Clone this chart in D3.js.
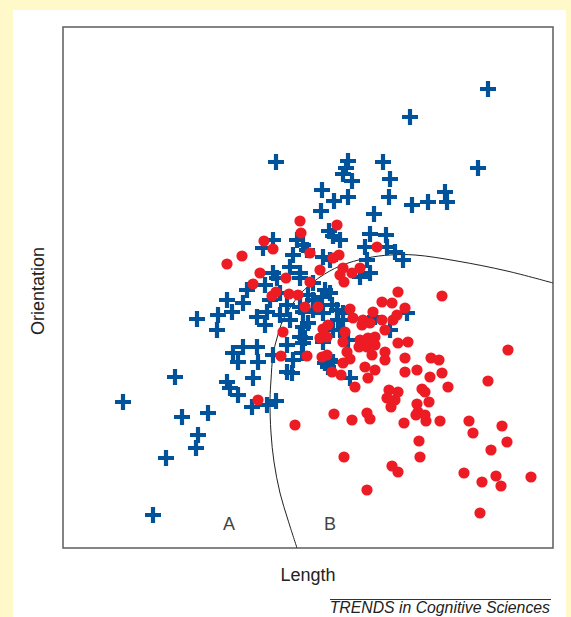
<!DOCTYPE html>
<html>
<head>
<meta charset="utf-8">
<script src="https://cdn.jsdelivr.net/npm/d3@7"></script>
<style>
  body { margin: 0; background: #fff9c9; }
  text { font-family: "Liberation Sans", Arial, sans-serif; }
</style>
</head>
<body>
<script>
// category A (blue crosses): [length, orientation]
var groupA = [
  [425,459],[347,431],[213,386],[415,380],
  [285,387],[283,380],[280,374],[289,367],[320,386],[327,369],[259,358],[271,347],
  [285,351],[326,351],[349,343],[365,346],[382,356],[384,346],[258,337],[311,334],
  [266,317],[270,312],[277,308],[307,314],[323,313],[302,301],[324,301],[332,296],
  [340,288],[304,288],[307,275],[297,271],
  [234,308],[240,303],[244,298],[230,293],[260,291],[267,288],[227,281],[237,275],
  [210,308],[200,300],[214,270],[202,263],[237,270],[250,265],[262,258],[267,255],
  [259,251],[245,253],[250,248],[269,243],[237,241],[250,238],[274,238],[280,235],
  [245,225],[275,228],[270,218],[242,210],[327,218],[285,208],[312,231],[210,275],
  [217,255],
  [164,248],[184,258],[180,245],[207,248],[224,243],[204,236],[194,231],[217,233],
  [169,236],[155,233],[134,229],[154,218],[202,223],[227,228],[240,236],[237,211],
  [224,203],[180,201],[194,201],[240,221],
  [170,195],[175,186],[195,186],[210,193],[224,176],[230,188],[112,171],[164,166],
  [167,160],[175,153],[190,170],[60,146],[119,131],[145,135],[135,113],[133,100],
  [103,90],[90,33],[189,141],[204,143],[213,147],[229,175],[240,205],
  [260,235],[280,228],[277,218],[260,206],[267,188],[265,181],[287,170],[344,235],
  [239,195],[262,185],[270,186]
];

// category B (red dots): [length, orientation]
var groupB = [
  [237,327],[238,315],[274,323],[201,307],[210,299],[164,284],[179,292],[197,275],
  [190,264],[223,270],[213,256],[209,252],[226,254],[235,253],[247,295],[270,290],
  [276,293],[280,280],[257,278],[297,280],[289,275],[277,273],[281,266],[247,266],
  [314,301],[335,256],[379,252],[319,246],[329,245],[342,240],[242,241],[255,241],
  [287,239],[310,236],[319,228],[334,233],[290,230],[300,228],[307,225],[265,223],
  [260,219],[257,210],[264,211],[282,216],[322,218],[297,208],[280,206],[305,210],
  [312,211],[335,205],[345,206],[220,216],[218,192],[195,148],[232,123],[244,192],
  [296,201],[304,201],[312,203],[259,191],[264,193],[284,196],[287,189],[309,193],
  [322,196],[322,188],[342,190],[280,185],[302,181],[312,178],[269,176],[278,173],
  [305,170],[342,176],[354,178],[292,161],[326,158],[335,156],[324,150],[332,148],
  [328,141],[354,144],[271,134],[289,128],[304,135],[307,129],[341,125],[355,136],
  [445,198],[425,167],[368,190],[376,188],[379,175],[367,171],[385,161],[359,159],
  [362,156],[366,146],[353,133],[362,133],[363,127],[377,127],[406,127],[410,115],
  [439,122],[444,106],[428,98],[356,107],[357,91],[281,91],[329,82],[335,76],
  [401,75],[433,72],[438,62],[419,66],[468,71],[304,58],[417,35],[330,228],[299,223]
];

// decision boundary between A and B
var boundary = [
  [234,0],[225,28],[217,55],[211,86],[208,115],[207,148],[208,168],[210,193],
  [214,210],[220,228],[227,240],[237,254],[247,263],[257,271],[277,282],[304,290],
  [327,293],[352,293],[394,287],[444,277],[490,265]
];

var regionLabels = [
  {name: "A", x: 166, y: 18},
  {name: "B", x: 267, y: 18}
];

var margin = {top: 27, right: 18, bottom: 69, left: 63},
    width = 571 - margin.left - margin.right,
    height = 617 - margin.top - margin.bottom;

var x = d3.scaleLinear().domain([0, 490]).range([0, width]);
var y = d3.scaleLinear().domain([0, 521]).range([height, 0]);

var svg = d3.select("body").append("svg")
    .attr("width", 571)
    .attr("height", 617)
    .style("display", "block");

// white card on the yellow page
svg.append("rect")
    .attr("x", 13).attr("y", 10)
    .attr("width", 553).attr("height", 607)
    .attr("fill", "#ffffff");

var g = svg.append("g")
    .attr("transform", "translate(" + margin.left + "," + margin.top + ")");

// plot frame
g.append("rect")
    .attr("width", width)
    .attr("height", height)
    .attr("fill", "none")
    .attr("stroke", "#666")
    .attr("stroke-width", 1.6);

// boundary curve
g.append("path")
    .datum(boundary)
    .attr("fill", "none")
    .attr("stroke", "#222")
    .attr("stroke-width", 1)
    .attr("d", d3.line()
        .x(function(d) { return x(d[0]); })
        .y(function(d) { return y(d[1]); })
        .curve(d3.curveCatmullRom));

// crosses
var arm = 8;
g.selectAll(".cross")
    .data(groupA)
    .enter().append("path")
    .attr("class", "cross")
    .attr("transform", function(d) { return "translate(" + x(d[0]) + "," + y(d[1]) + ")"; })
    .attr("d", "M" + (-arm) + ",0H" + arm + "M0," + (-arm) + "V" + arm)
    .attr("stroke", "#00529b")
    .attr("stroke-width", 4.2)
    .attr("fill", "none");

// dots
g.selectAll(".dot")
    .data(groupB)
    .enter().append("circle")
    .attr("class", "dot")
    .attr("cx", function(d) { return x(d[0]); })
    .attr("cy", function(d) { return y(d[1]); })
    .attr("r", 5.6)
    .attr("fill", "#ed1c24");

// region letters
g.selectAll(".region")
    .data(regionLabels)
    .enter().append("text")
    .attr("class", "region")
    .attr("x", function(d) { return x(d.x); })
    .attr("y", function(d) { return y(d.y); })
    .attr("text-anchor", "middle")
    .attr("font-size", 18)
    .attr("fill", "#444")
    .text(function(d) { return d.name; });

// axis titles
svg.append("text")
    .attr("transform", "translate(44,291) rotate(-90)")
    .attr("text-anchor", "middle")
    .attr("font-size", 18)
    .attr("fill", "#222")
    .text("Orientation");

svg.append("text")
    .attr("x", 308)
    .attr("y", 581)
    .attr("text-anchor", "middle")
    .attr("font-size", 18)
    .attr("fill", "#222")
    .text("Length");

// journal footer
svg.append("line")
    .attr("x1", 330).attr("x2", 551)
    .attr("y1", 599.5).attr("y2", 599.5)
    .attr("stroke", "#333")
    .attr("stroke-width", 1);

svg.append("text")
    .attr("x", 550)
    .attr("y", 613)
    .attr("text-anchor", "end")
    .attr("font-size", 15.8)
    .attr("font-style", "italic")
    .attr("fill", "#222")
    .text("TRENDS in Cognitive Sciences");
</script>
</body>
</html>
